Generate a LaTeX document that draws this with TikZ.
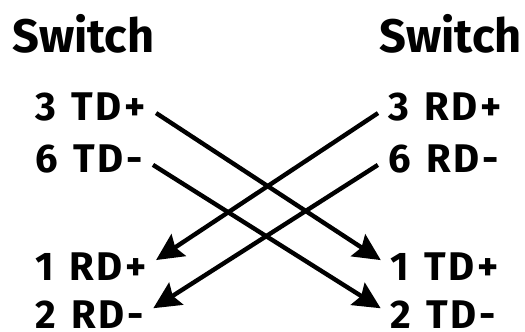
\documentclass[tikz,border=0pt]{standalone}
\usepackage{fontspec}
\setmainfont{Fira Sans}
\newfontfamily\pinfont{Fira Sans}[LetterSpace=7.0, WordSpace=1.25]
\usetikzlibrary{arrows.meta}
\begin{document}
\begin{tikzpicture}[x=1pt,y=-1pt,
  head/.style={font=\fontsize{47}{50}\selectfont\bfseries, inner sep=0pt},
  pin/.style={font=\pinfont\fontsize{40}{44}\selectfont\bfseries, inner sep=0pt},
  wire/.style={line width=4.4pt, shorten <=12pt, shorten >=11pt,
    -{Stealth[length=27pt,width=26pt,inset=4pt]}}]
\useasboundingbox (0,0) rectangle (525,332);
% Headers
\node[head, anchor=base west] (swl) at (12,52) {Switch};
\node[head, anchor=base east] (swr) at (522,52) {Switch};

% Left side pins
\node[pin, anchor=base west] (td3) at (35,120) {3 TD+};
\node[pin, anchor=base west] (td6) at (35,172) {6 TD-};
\node[pin, anchor=base west] (rd1) at (35,280) {1 RD+};
\node[pin, anchor=base west] (rd2) at (35,328) {2 RD-};

% Right side pins
\node[pin, anchor=base west] (rd3) at (388,120) {3 RD+};
\node[pin, anchor=base west] (rd6) at (388,172) {6 RD-};
\node[pin, anchor=base west] (td1) at (390,280) {1 TD+};
\node[pin, anchor=base west] (td2) at (390,328) {2 TD-};

% Crossover
\draw[wire] (td3.east) -- (td1.west);
\draw[wire] (td6.east) -- (td2.west);
\draw[wire] (rd3.west) -- (rd1.east);
\draw[wire] (rd6.west) -- (rd2.east);
\end{tikzpicture}
\end{document}
